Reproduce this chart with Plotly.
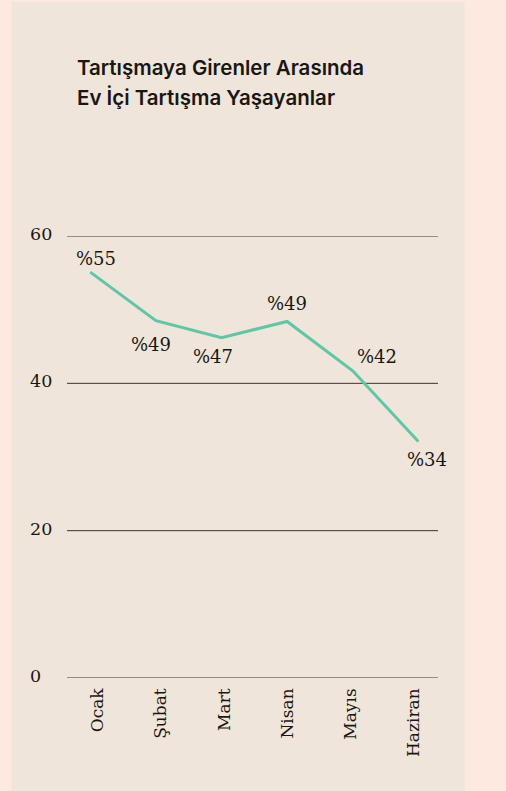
import plotly.graph_objects as go

months = ["Ocak", "Şubat", "Mart", "Nisan", "Mayıs", "Haziran"]
values = [55.1, 48.5, 46.2, 48.4, 41.7, 32.1]
value_labels = ["%55", "%49", "%47", "%49", "%42", "%34"]
y_ticks = [0, 20, 40, 60]
title_lines = ["Tartışmaya Girenler Arasında", "Ev İçi Tartışma Yaşayanlar"]

# label offsets in pixels (x right, y up) - styling, not data
label_dx = [6, -5, -9, 0, 24, 9]
label_dy = [14, -24, -19, 18, 14, -18]

W, H = 506, 791
L, R, T, B = 66.7, 67.7, 235.5, 113
pw, ph = W - L - R, H - T - B

SERIF = "DejaVu Serif"
SANS = "Inter, sans-serif"
INK = "#1a1613"

fig = go.Figure()
fig.add_trace(go.Scatter(
    x=months, y=values, mode="lines",
    line=dict(color="#5fc6a6", width=3),
    hoverinfo="skip", showlegend=False, cliponaxis=False,
))
# invisible trace for the label axis
fig.add_trace(go.Scatter(
    x=months, y=values, mode="lines", xaxis="x2",
    line=dict(color="rgba(0,0,0,0)", width=0),
    hoverinfo="skip", showlegend=False,
))

annotations = []
for m, v, t, dx, dy in zip(months, values, value_labels, label_dx, label_dy):
    annotations.append(dict(
        x=m, y=v, xref="x", yref="y", text=t, showarrow=False,
        xshift=dx, yshift=dy,
        font=dict(family=SERIF, size=18, color=INK),
        xanchor="center", yanchor="middle",
    ))
for tv in y_ticks:
    annotations.append(dict(
        x=(28 - L) / pw, y=tv, xref="paper", yref="y", text=str(tv),
        showarrow=False, xanchor="left", yanchor="middle", yshift=2,
        font=dict(family=SERIF, size=17.5, color=INK),
    ))
title_y_px = [67, 97]
for line, ypx in zip(title_lines, title_y_px):
    annotations.append(dict(
        x=(75 - L) / pw, y=(H - B - ypx) / ph, xref="paper", yref="paper",
        text=line, showarrow=False, xanchor="left", yanchor="middle",
        font=dict(family=SANS, size=20.5, color=INK, weight=600),
    ))

shapes = [dict(
    type="rect", xref="paper", yref="paper", layer="below",
    x0=(11 - L) / pw, x1=(465 - L) / pw,
    y0=(H - B - 800) / ph, y1=(H - B - 1) / ph,
    fillcolor="#efe5da", line=dict(width=0),
)]
for tv in y_ticks:
    shapes.append(dict(
        type="line", xref="paper", yref="y", layer="below",
        x0=0, x1=1, y0=tv, y1=tv,
        line=dict(color="#3a3430", width=1),
    ))

fig.update_layout(
    width=W, height=H,
    margin=dict(l=L, r=R, t=T, b=B, pad=0),
    paper_bgcolor="#fde9df", plot_bgcolor="rgba(0,0,0,0)",
    showlegend=False,
    xaxis=dict(
        type="category", categoryorder="array", categoryarray=months,
        range=[-0.355, 5.30], showticklabels=False, showgrid=False,
        zeroline=False, showline=False, ticks="", fixedrange=True,
    ),
    xaxis2=dict(
        type="category", categoryorder="array", categoryarray=months,
        overlaying="x", range=[-0.48, 5.38], side="bottom",
        tickangle=-90, ticklabelstandoff=6,
        tickfont=dict(family=SERIF, size=17, color=INK),
        showgrid=False, zeroline=False, showline=False, ticks="",
        fixedrange=True,
    ),
    yaxis=dict(
        range=[0, 60], tickvals=y_ticks, showticklabels=False,
        showgrid=False, zeroline=False, ticks="", fixedrange=True,
    ),
    annotations=annotations,
    shapes=shapes,
)

fig.write_html(
    "out.html",
    config={"displayModeBar": False},
    post_script="document.body.style.margin='0';document.body.style.overflow='hidden';",
)
